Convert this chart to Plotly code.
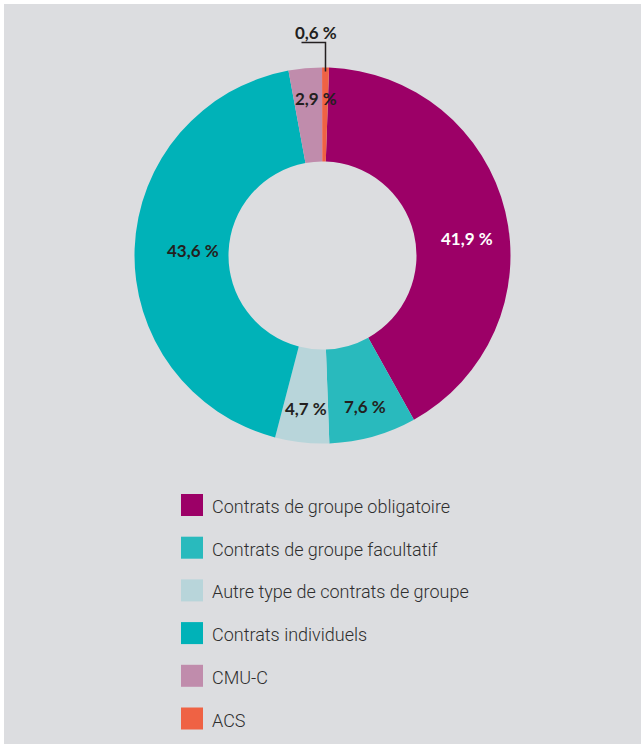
import math
import plotly.graph_objects as go

# Répartition des contrats (en %)
labels = [
    "Contrats de groupe obligatoire",
    "Contrats de groupe facultatif",
    "Autre type de contrats de groupe",
    "Contrats individuels",
    "CMU-C",
    "ACS",
]
values = [41.9, 7.6, 4.7, 43.6, 2.9, 0.6]
colors = ["#9c0067", "#29babd", "#b8d5da", "#00b2b8", "#c08cac", "#ef6244"]
text_colors = ["#ffffff", "#231f20", "#231f20", "#231f20", "#231f20", "#231f20"]

W, H = 641, 744
BG = "#dcdde0"
DARK = "#231f20"

# donut geometry in pixels
CX, CY, R = 322.5, 255.5, 188.0
HOLE = 0.5
ROTATION = 2.0

# per-slice label placement: radius from centre, angular nudge (degrees)
label_radius = [146, 157, 154, 130, 157, None]
label_turn = [6.7, 0, 0, 0, 3.0, 0]


def px(x):
    return x / W


def py(y):
    return 1 - y / H


def fmt(v):
    return f"{v:.1f}".replace(".", ",") + " %"


fig = go.Figure()
fig.add_trace(go.Pie(
    labels=labels,
    values=values,
    marker=dict(colors=colors, line=dict(width=0)),
    hole=HOLE,
    sort=False,
    direction="clockwise",
    rotation=ROTATION,
    textinfo="none",
    hoverinfo="label+value",
    showlegend=False,
    domain=dict(x=[px(CX - R), px(CX + R)], y=[py(CY + R), py(CY - R)]),
))

# angles of each slice (clockwise from 12 o'clock)
total = sum(values)
mids = []
acc = 0.0
for v in values:
    a0 = ROTATION + acc / total * 360
    acc += v
    a1 = ROTATION + acc / total * 360
    mids.append((a0 + a1) / 2)


def polar(r, deg):
    t = math.radians(deg)
    return CX + r * math.sin(t), CY - r * math.cos(t)


annotations = []
shapes = []
label_font = dict(family="Lato, 'Open Sans', sans-serif", size=17, weight=700)

for i, v in enumerate(values):
    if label_radius[i] is None:
        continue
    x, y = polar(label_radius[i], mids[i] + label_turn[i])
    annotations.append(dict(
        x=px(x), y=py(y), xref="paper", yref="paper",
        text=fmt(v), showarrow=False,
        xanchor="center", yanchor="middle",
        font=dict(label_font, color=text_colors[i]),
    ))

# small slice: label above with an elbow leader line
i_small = len(values) - 1
lx, ly = polar(R - 4, mids[i_small])
elbow_y = CY - R - 25
shapes.append(dict(
    type="path", xref="paper", yref="paper",
    path=f"M {px(lx)} {py(ly)} L {px(lx)} {py(elbow_y)} L {px(lx - 24)} {py(elbow_y)}",
    line=dict(color=DARK, width=1.5),
))
annotations.append(dict(
    x=px(lx - 9), y=py(elbow_y - 10), xref="paper", yref="paper",
    text=fmt(values[i_small]), showarrow=False,
    xanchor="center", yanchor="middle",
    font=dict(label_font, color=DARK),
))

# legend: coloured squares with labels
LEG_X, LEG_TOP, SQ, PITCH = 181, 494, 22, 42.7
for i, (lab, col) in enumerate(zip(labels, colors)):
    top = LEG_TOP + i * PITCH
    shapes.append(dict(
        type="rect", xref="paper", yref="paper",
        x0=px(LEG_X), x1=px(LEG_X + SQ), y0=py(top + SQ), y1=py(top),
        fillcolor=col, line=dict(width=0),
    ))
    annotations.append(dict(
        x=px(LEG_X + SQ + 7), y=py(top + SQ / 2 + 1.5), xref="paper", yref="paper",
        text=lab, showarrow=False, xanchor="left", yanchor="middle",
        font=dict(family="Roboto, sans-serif", size=18, weight=300, color="#2e2e2e"),
    ))

# thin white strips on the top and left edges
shapes.append(dict(type="rect", xref="paper", yref="paper", x0=0, x1=px(4), y0=0, y1=1,
                   fillcolor="#ffffff", line=dict(width=0), layer="below"))
shapes.append(dict(type="rect", xref="paper", yref="paper", x0=0, x1=1, y0=py(4), y1=1,
                   fillcolor="#ffffff", line=dict(width=0), layer="below"))

fig.update_layout(
    width=W, height=H,
    margin=dict(l=0, r=0, t=0, b=0),
    paper_bgcolor=BG,
    plot_bgcolor=BG,
    showlegend=False,
    annotations=annotations,
    shapes=shapes,
)

fig.write_html("out.html")
